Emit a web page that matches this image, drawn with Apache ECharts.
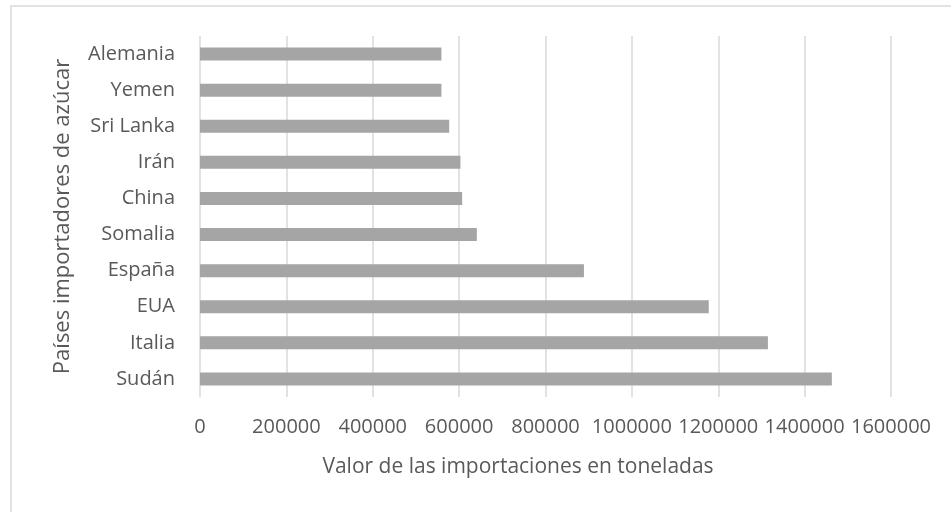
<!DOCTYPE html>
<html>
<head>
<meta charset="utf-8">
<script src="https://cdn.jsdelivr.net/npm/echarts@6/dist/echarts.min.js"></script>
<style>
html,body{margin:0;padding:0;background:#fff;}
#chart{width:951px;height:512px;}
</style>
</head>
<body>
<div id="chart"></div>
<script>
const countries = ['Sudán','Italia','EUA','España','Somalia','China','Irán','Sri Lanka','Yemen','Alemania'];
const imports = [1463000, 1315000, 1178000, 889000, 641000, 607000, 603000, 577000, 559000, 559000];
const xTicks = { min: 0, max: 1600000, interval: 200000 };
const xTitle = 'Valor de las importaciones en toneladas';
const yTitle = 'Países importadores de azúcar';

const textColor = '#595959';
const font = '"Open Sans", sans-serif';
const chart = echarts.init(document.getElementById('chart'), null, {renderer: 'canvas'});
chart.setOption({
  animation: false,
  backgroundColor: '#fff',
  grid: { left: 200, right: 60, top: 36, bottom: 115, containLabel: false },
  xAxis: {
    type: 'value',
    min: xTicks.min, max: xTicks.max, interval: xTicks.interval,
    axisLine: { show: false },
    axisTick: { show: false },
    splitLine: { show: true, lineStyle: { color: '#D9D9D9', width: 1.5 } },
    axisLabel: {
      color: textColor, fontFamily: font, fontSize: 20, margin: 20,
      hideOverlap: false, showMinLabel: true, showMaxLabel: true,
      formatter: v => String(v)
    }
  },
  yAxis: {
    type: 'category',
    data: countries,
    axisLine: { show: false },
    axisTick: { show: false },
    axisLabel: { color: textColor, fontFamily: font, fontSize: 20, margin: 25 },
    name: yTitle,
    nameLocation: 'middle',
    nameGap: 126,
    nameTextStyle: { color: textColor, fontFamily: font, fontSize: 22 }
  },
  series: [{
    type: 'bar',
    data: imports,
    barWidth: 13,
    itemStyle: { color: '#A5A5A5' }
  }],
  graphic: [
    { type: 'rect', shape: { x: 11, y: 6, width: 1000, height: 600 }, style: { fill: 'none', stroke: '#D9D9D9', lineWidth: 1.5 }, z: -1 },
    { type: 'text', x: 518, y: 467, style: { text: xTitle, fill: textColor, font: '21px "Open Sans", sans-serif', textAlign: 'center', textVerticalAlign: 'middle' } }
  ]
});
</script>
</body>
</html>
